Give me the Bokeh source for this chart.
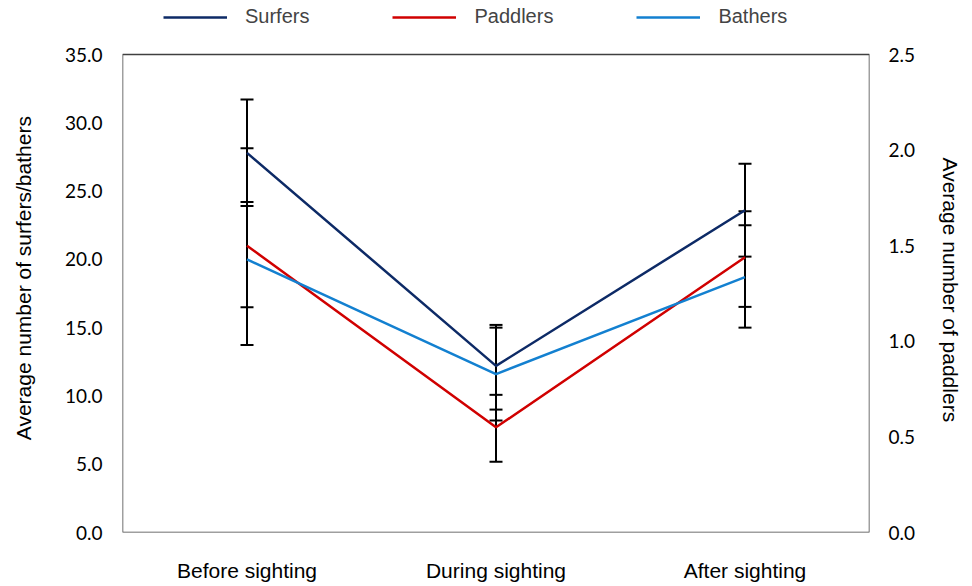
from bokeh.plotting import figure
from bokeh.models import (ColumnDataSource, Range1d, LinearAxis, Whisker, TeeHead, BoxAnnotation,
                          Legend, LegendItem, SingleIntervalTicker, NumeralTickFormatter, FactorRange)
from bokeh.embed import file_html
from bokeh.resources import INLINE

categories = ["Before sighting", "During sighting", "After sighting"]
surfers = [27.8, 12.2, 23.6]
surfers_upper = [31.7, 15.2, 27.0]
surfers_lower = [23.9, 9.0, 20.2]
bathers = [20.0, 11.6, 18.7]
bathers_upper = [24.2, 15.0, 22.5]
bathers_lower = [16.5, 8.2, 15.0]
paddlers = [1.50, 0.55, 1.44]
paddlers_upper = [2.01, 0.72, 1.68]
paddlers_lower = [0.98, 0.37, 1.18]
left_max = 35.0
right_max = 2.5
left_title = "Average number of surfers/bathers"
right_title = "Average number of paddlers"

C_SURF = "#0D2A66"
C_PAD = "#D00000"
C_BATH = "#1380D0"
TICK_FONT = "Lato"
TEXT_FONT = "Liberation Sans"
NBSP = "\u00a0"

# frame spans from the top of the canvas (room for the legend) down to the x axis;
# the visible plot box occupies the lower BOX_H pixels of it.
FRAME_H = 532
BOX_H = 478
scale = FRAME_H / BOX_H

p = figure(x_range=FactorRange(*categories, range_padding=0), y_range=Range1d(0, left_max * scale),
           frame_width=747, frame_height=FRAME_H, output_backend="svg", toolbar_location=None,
           min_border_left=122, min_border_right=95, min_border_top=0, min_border_bottom=46)
p.extra_y_ranges = {"right": Range1d(0, right_max * scale)}
p.outline_line_color = None
p.xgrid.visible = False
p.ygrid.visible = False

box = BoxAnnotation(bottom=0, top=left_max, fill_color=None, fill_alpha=0,
                    line_color="#404040", line_alpha=1.0, line_width=1.5)
p.add_layout(box)

src_s = ColumnDataSource(dict(x=categories, y=surfers, upper=surfers_upper, lower=surfers_lower))
src_b = ColumnDataSource(dict(x=categories, y=bathers, upper=bathers_upper, lower=bathers_lower))
src_p = ColumnDataSource(dict(x=categories, y=paddlers, upper=paddlers_upper, lower=paddlers_lower))

r_s = p.line("x", "y", source=src_s, line_color=C_SURF, line_width=2.5)
r_p = p.line("x", "y", source=src_p, line_color=C_PAD, line_width=2.5, y_range_name="right")
r_b = p.line("x", "y", source=src_b, line_color=C_BATH, line_width=2.5)

def add_whisker(src, yname=None):
    kw = {}
    if yname:
        kw["y_range_name"] = yname
    w = Whisker(base="x", upper="upper", lower="lower", source=src, dimension="height",
                line_color="black", line_width=2,
                upper_head=TeeHead(size=13, line_color="black", line_width=2),
                lower_head=TeeHead(size=13, line_color="black", line_width=2), **kw)
    p.add_layout(w)

add_whisker(src_s)
add_whisker(src_p, "right")
add_whisker(src_b)

# left axis
ya = p.yaxis[0]
ya.bounds = (0, left_max)
ya.ticker = SingleIntervalTicker(interval=5)
ya.formatter = NumeralTickFormatter(format="0.0")
ya.axis_label = left_title + NBSP * 4
ya.axis_label_text_font = TEXT_FONT
ya.axis_label_text_font_size = "21px"
ya.axis_label_text_font_style = "normal"
ya.axis_label_text_color = "black"
ya.axis_label_standoff = 27
ya.major_label_text_font = TICK_FONT
ya.major_label_text_font_size = "19px"
ya.major_label_text_color = "black"
ya.major_label_standoff = 14
ya.major_tick_line_color = None
ya.minor_tick_line_color = None
ya.axis_line_color = None

# right axis
ra = LinearAxis(y_range_name="right", ticker=SingleIntervalTicker(interval=0.5),
                formatter=NumeralTickFormatter(format="0.0"), bounds=(0, right_max))
ra.axis_label = NBSP * 8 + right_title
ra.axis_label_text_font = TEXT_FONT
ra.axis_label_text_font_size = "21px"
ra.axis_label_text_font_style = "normal"
ra.axis_label_text_color = "black"
ra.axis_label_standoff = 21
ra.major_label_text_font = TICK_FONT
ra.major_label_text_font_size = "19px"
ra.major_label_text_color = "black"
ra.major_label_standoff = 13
ra.major_tick_line_color = None
ra.minor_tick_line_color = None
ra.axis_line_color = None
p.add_layout(ra, "right")

# bottom axis
xa = p.xaxis[0]
xa.major_label_text_font = TEXT_FONT
xa.major_label_text_font_size = "21px"
xa.major_label_text_color = "black"
xa.major_label_standoff = 20
xa.major_tick_line_color = None
xa.minor_tick_line_color = None
xa.axis_line_color = None

legend = Legend(items=[LegendItem(label="Surfers", renderers=[r_s]),
                       LegendItem(label="Paddlers", renderers=[r_p]),
                       LegendItem(label="Bathers", renderers=[r_b])],
                orientation="horizontal", location=(41, 504), padding=0, margin=0,
                spacing=83, glyph_width=64, glyph_height=20, label_standoff=18,
                label_text_font=TEXT_FONT, label_text_font_size="20px",
                border_line_color=None, background_fill_alpha=0)
p.add_layout(legend)

open("out.html", "w").write(file_html(p, INLINE))
